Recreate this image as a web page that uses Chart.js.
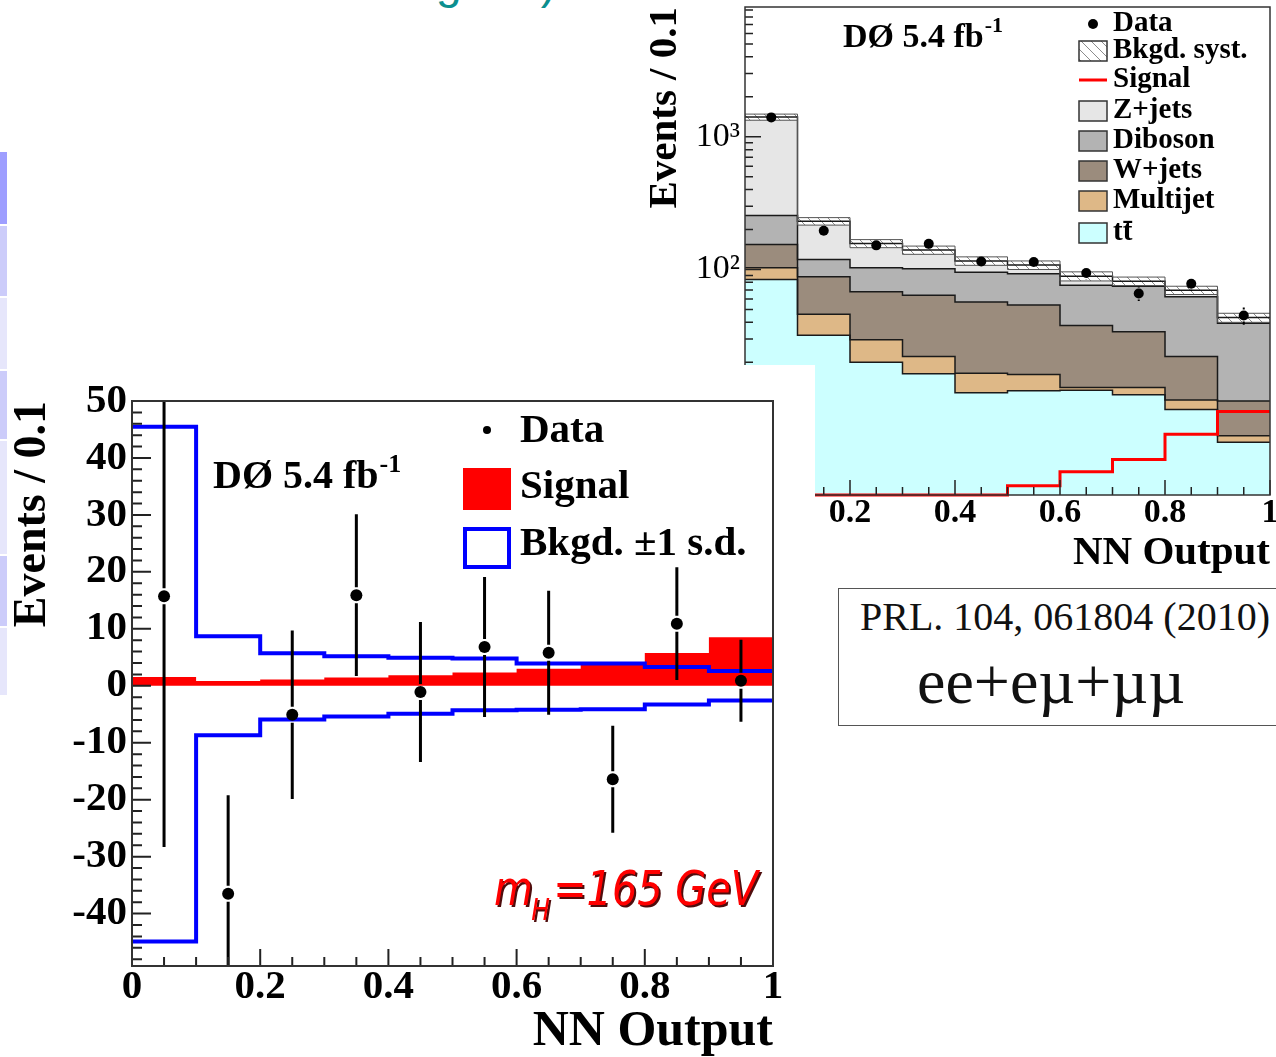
<!DOCTYPE html>
<html>
<head>
<meta charset="utf-8">
<title>NN output, ee+eµ+µµ</title>
<script src="https://cdn.jsdelivr.net/npm/chart.js@4.4.1/dist/chart.umd.min.js"></script>
<style>
  html, body { margin: 0; padding: 0; background: #fff; }
  body { position: relative; width: 1276px; height: 1057px; overflow: hidden; }
  .cell { position: absolute; left: 0; width: 7px; }
  #heading { position: absolute; right: 720px; top: -41px; font: 46px/46px 'Liberation Sans', Arial, sans-serif;
             color: #0b8f8f; white-space: nowrap; }
  #topPanel { position: absolute; left: 640px; top: 0; z-index: 1; }
  #subPanel { position: absolute; left: 8px; top: 365px; z-index: 2; background: #fff; }
  #refBox { position: absolute; left: 838px; top: 588px; width: 470px; height: 136px; border: 1.5px solid #555;
            background: #fff; z-index: 3; }
  .refText { position: absolute; white-space: nowrap; font-family: 'Liberation Serif', 'DejaVu Serif', serif;
             color: #111; z-index: 4; }
</style>
</head>
<body>
<!-- slide table edge -->
<div class="cell" style="top:152px;height:72px;background:#9e9eff"></div>
<div class="cell" style="top:226px;height:70px;background:#ccccfa"></div>
<div class="cell" style="top:298px;height:71px;background:#e6e6fb"></div>
<div class="cell" style="top:371px;height:68px;background:#ccccfa"></div>
<div class="cell" style="top:441px;height:113px;background:#e6e6fb"></div>
<div class="cell" style="top:556px;height:70px;background:#ccccfa"></div>
<div class="cell" style="top:628px;height:67px;background:#e6e6fb"></div>

<div id="heading">Subtracting NN)</div>

<div id="topPanel"><canvas id="stackCanvas" width="636" height="590"></canvas></div>
<div id="subPanel"><canvas id="subCanvas" width="807" height="692"></canvas></div>

<div id="refBox"></div>
<div class="refText" style="left:860px;top:597px;font-size:40px;line-height:40px;">PRL. 104, 061804 (2010)</div>
<div class="refText" style="left:1051px;top:650px;font-size:64px;line-height:64px;transform:translateX(-50%);">ee+eµ+µµ</div>

<script>
// ---------- binning: NN output, bins of 0.1 ----------
const binEdges   = [0, 0.1, 0.2, 0.3, 0.4, 0.5, 0.6, 0.7, 0.8, 0.9, 1.0];
const binCenters = [0.05, 0.15, 0.25, 0.35, 0.45, 0.55, 0.65, 0.75, 0.85, 0.95];

// ---------- Events / 0.1 : background components (stacked, log panel) ----------
const ttbar    = [84, 32, 20, 16.4, 11.8, 12.2, 12.3, 11.4, 8.8, 5.0];
const multijet = [19, 14, 9.5, 5.7, 4.7, 4.0, 0.6, 1.5, 1.6, 0.6];
const wjets    = [51, 42, 38.5, 42, 40.3, 37.8, 25, 21.1, 11.7, 4.6];
const diboson  = [101, 31, 35, 37, 38.6, 39, 38.1, 40.8, 40.3, 29.1];
const zjets    = [1152, 112, 54, 39, 20.6, 15, 13, 6.9, 7.4, 4.1];
const bkgdSyst = [75, 15, 11, 10, 8.5, 8, 7, 6, 5, 3.4];

const dataEvents  = [1400, 196, 152, 156, 115, 114, 94, 66, 78, 45];
const dataStatErr = [37, 14, 12.3, 12.5, 10.7, 10.7, 9.7, 8.1, 8.8, 6.7];
const signal      = [1.55, 0.85, 1.1, 1.45, 1.85, 2.35, 3.0, 3.7, 5.75, 8.5];

// ---------- background-subtracted panel ----------
const dataMinusBkgd    = [15.7, -36.5, -5.1, 15.9, -1.1, 6.8, 5.8, -16.4, 10.9, 0.9];
const dataMinusBkgdErr = [44, 17.3, 14.8, 14.2, 12.3, 12.3, 10.9, 9.4, 9.9, 7.2];
const bkgdUp   = [45.5, 8.7, 5.7, 5.2, 4.9, 4.8, 3.9, 3.9, 3.3, 2.6];
const bkgdDown = [-44.9, -8.7, -5.9, -5.4, -4.9, -4.3, -4.2, -4.1, -3.3, -2.6];

// ---------- axis labels ----------
const xTickValues   = [0, 0.2, 0.4, 0.6, 0.8, 1];
const xTickLabels   = ['0', '0.2', '0.4', '0.6', '0.8', '1'];
const logTickValues = [10, 100, 1000];
const logTickLabels = ['10¹', '10²', '10³'];
const subTickValues = [-40, -30, -20, -10, 0, 10, 20, 30, 40, 50];
const subTickLabels = ['-40', '-30', '-20', '-10', '0', '10', '20', '30', '40', '50'];

const logMin = 2, logMax = 9500;
const subMin = -49.2, subMax = 50;

const SERIF = "'Liberation Serif', 'Times New Roman', Times, serif";

// ---------- helpers ----------
const cumulative = (...layers) => layers[0].map((_, i) => layers.reduce((s, l) => s + l[i], 0));
// histogram contour: one point per bin edge, the last bin repeated at the upper edge
const steps = vals => binEdges.map((x, i) => ({ x, y: vals[Math.min(i, vals.length - 1)] }));
const points = vals => binCenters.map((x, i) => ({ x, y: vals[i] }));

function nnTicks(longLen, shortLen) {
  const t = [];
  for (let k = 0; k <= 20; k++) t.push({ v: k * 0.05, len: k % 4 === 0 ? longLen : shortLen });
  return t;
}

function errorBars(cfg) {
  return {
    id: 'errorBars',
    beforeDatasetDraw(chart, args) {
      if (args.index !== 0) return;
      const { ctx, chartArea: a, scales: { x, y } } = chart;
      ctx.save();
      ctx.beginPath();
      ctx.rect(a.left, a.top, a.right - a.left, a.bottom - a.top);
      ctx.clip();
      ctx.strokeStyle = '#000';
      ctx.lineWidth = cfg.width;
      ctx.beginPath();
      binCenters.forEach((c, i) => {
        const px = x.getPixelForValue(c);
        const py = y.getPixelForValue(cfg.values[i]);
        const hi = y.getPixelForValue(cfg.values[i] + cfg.errors[i]);
        const lo = y.getPixelForValue(cfg.values[i] - cfg.errors[i]);
        if (py - hi > cfg.gap) { ctx.moveTo(px, py - cfg.gap); ctx.lineTo(px, hi); }
        if (lo - py > cfg.gap) { ctx.moveTo(px, py + cfg.gap); ctx.lineTo(px, lo); }
      });
      ctx.stroke();
      ctx.restore();
    }
  };
}

function axisFrame(cfg) {
  return {
    id: 'axisFrame',
    afterDatasetsDraw(chart) {
      const { ctx, chartArea: a, scales: { x, y } } = chart;
      ctx.save();
      ctx.strokeStyle = '#222';
      ctx.lineWidth = cfg.tickWidth;
      ctx.beginPath();
      cfg.xTicks.forEach(t => {
        const px = x.getPixelForValue(t.v);
        ctx.moveTo(px, a.bottom); ctx.lineTo(px, a.bottom - t.len);
      });
      cfg.yTicks.forEach(t => {
        const py = y.getPixelForValue(t.v);
        ctx.moveTo(a.left, py); ctx.lineTo(a.left + t.len, py);
      });
      ctx.stroke();
      ctx.strokeStyle = '#333';
      ctx.lineWidth = cfg.frameWidth;
      ctx.strokeRect(a.left, a.top, a.right - a.left, a.bottom - a.top);
      ctx.restore();
    }
  };
}

const whiteBackground = {
  id: 'whiteBackground',
  beforeDraw(chart) {
    const { ctx, width, height } = chart;
    ctx.save(); ctx.fillStyle = '#fff'; ctx.fillRect(0, 0, width, height); ctx.restore();
  }
};

function labelWithSup(ctx, x, base, main, sup, size, supSize, rise) {
  ctx.font = `bold ${size}px ${SERIF}`;
  ctx.fillText(main, x, base);
  const w = ctx.measureText(main).width;
  ctx.font = `bold ${supSize}px ${SERIF}`;
  ctx.fillText(sup, x + w + 1, base - rise);
}

function build() {
  // ===================== stacked log panel =====================
  const stackCanvas = document.getElementById('stackCanvas');
  const sctx = stackCanvas.getContext('2d');

  const tile = document.createElement('canvas');
  tile.width = 10; tile.height = 10;
  const tg = tile.getContext('2d');
  tg.fillStyle = '#fff'; tg.fillRect(0, 0, 10, 10);
  tg.strokeStyle = '#8c8c8c'; tg.lineWidth = 1;
  tg.beginPath();
  tg.moveTo(0, 0); tg.lineTo(10, 10);
  tg.moveTo(-5, 5); tg.lineTo(5, 15);
  tg.moveTo(5, -5); tg.lineTo(15, 5);
  tg.stroke();
  const hatch = sctx.createPattern(tile, 'repeat');

  const stackMj = cumulative(ttbar, multijet);
  const stackWj = cumulative(ttbar, multijet, wjets);
  const stackDb = cumulative(ttbar, multijet, wjets, diboson);
  const total   = cumulative(ttbar, multijet, wjets, diboson, zjets);

  const layer = (label, vals, color, fill) => ({
    label, data: steps(vals), stepped: true, borderColor: '#1a1a1a', borderWidth: 1.5,
    backgroundColor: color, fill, pointRadius: 0
  });

  const logTicks = [];
  for (let d = 1; d <= 1000; d *= 10) {
    for (let m = 1; m <= 9; m++) {
      const v = m * d;
      if (v >= logMin && v <= logMax) logTicks.push({ v, len: m === 1 ? 16 : 8 });
    }
  }

  new Chart(stackCanvas, {
    type: 'line',
    data: {
      datasets: [
        { label: 'Data', data: points(dataEvents), showLine: false, pointRadius: 5,
          pointBackgroundColor: '#000', pointBorderWidth: 0 },
        { label: 'Signal', data: steps(signal.map(v => Math.max(v, logMin))), stepped: true,
          borderColor: '#ff0000', borderWidth: 3, pointRadius: 0, fill: false, clip: 4 },
        { label: 'Bkgd. syst. up', data: steps(total.map((v, i) => v + bkgdSyst[i])), stepped: true,
          borderColor: '#555', borderWidth: 1, backgroundColor: hatch, fill: 3, pointRadius: 0 },
        { label: 'Bkgd. syst. down', data: steps(total.map((v, i) => v - bkgdSyst[i])), stepped: true,
          borderColor: '#555', borderWidth: 1, fill: false, pointRadius: 0 },
        layer('Z+jets', total, '#e6e6e6', 5),
        layer('Diboson', stackDb, '#b3b3b3', 6),
        layer('W+jets', stackWj, '#9b8c7d', 7),
        layer('Multijet', stackMj, '#deb887', 8),
        layer('tt̄', ttbar, '#ccffff', 'start')
      ]
    },
    options: {
      responsive: false, animation: false, events: [],
      layout: { padding: { left: 0, top: 7, right: 6, bottom: 0 } },
      plugins: { legend: { display: false }, tooltip: { enabled: false },
                 filler: { drawTime: 'beforeDatasetsDraw' } },
      scales: {
        x: {
          type: 'linear', min: 0, max: 1,
          grid: { display: false, drawTicks: false }, border: { display: false },
          afterBuildTicks: s => { s.ticks = xTickValues.map(v => ({ value: v })); },
          afterFit: s => { s.height = 95; s.paddingLeft = 0; s.paddingRight = 0; },
          ticks: { callback: (v, i) => xTickLabels[i], color: '#000', padding: 1, autoSkip: false, maxRotation: 0,
                   font: { family: SERIF, weight: 'bold', size: 34, lineHeight: 1 } },
          title: { display: true, text: 'NN Output', align: 'end', color: '#000',
                   font: { family: SERIF, weight: 'bold', size: 41, lineHeight: 1 }, padding: { top: 0, bottom: 16 } }
        },
        y: {
          type: 'logarithmic', min: logMin, max: logMax,
          grid: { display: false, drawTicks: false }, border: { display: false },
          afterBuildTicks: s => { s.ticks = logTickValues.map(v => ({ value: v })); },
          afterFit: s => { s.width = 105; s.paddingTop = 0; s.paddingBottom = 0; },
          ticks: { callback: (v, i) => logTickLabels[i], color: '#000', padding: 5, autoSkip: false,
                   font: { family: SERIF, size: 34, lineHeight: 1 } },
          title: { display: true, text: 'Events / 0.1', align: 'end', color: '#000',
                   font: { family: SERIF, weight: 'bold', size: 41, lineHeight: 1 }, padding: { top: 5, bottom: 0 } }
        }
      }
    },
    plugins: [
      whiteBackground,
      errorBars({ values: dataEvents, errors: dataStatErr, gap: 6, width: 2 }),
      axisFrame({ xTicks: nnTicks(15, 8), yTicks: logTicks, tickWidth: 1.5, frameWidth: 1.5 }),
      {
        id: 'stackLegend',
        afterDraw(chart) {
          const ctx = chart.ctx;
          ctx.save();
          ctx.fillStyle = '#000';
          ctx.textAlign = 'left';
          ctx.textBaseline = 'alphabetic';
          labelWithSup(ctx, 203, 47, 'DØ 5.4 fb', '-1', 34, 22, 15);

          const sx = 439, sw = 28, tx = 473;
          const rows = [
            { text: 'Data', y: 24, kind: 'dot' },
            { text: 'Bkgd. syst.', y: 51, kind: 'hatch' },
            { text: 'Signal', y: 80, kind: 'line' },
            { text: 'Z+jets', y: 111, kind: 'box', color: '#e6e6e6' },
            { text: 'Diboson', y: 141, kind: 'box', color: '#b3b3b3' },
            { text: 'W+jets', y: 171, kind: 'box', color: '#9b8c7d' },
            { text: 'Multijet', y: 201, kind: 'box', color: '#deb887' },
            { text: 'tt\u0304', y: 233, kind: 'box', color: '#ccffff' }
          ];
          rows.forEach(r => {
            if (r.kind === 'dot') {
              ctx.fillStyle = '#000';
              ctx.beginPath(); ctx.arc(sx + sw / 2, r.y, 5, 0, Math.PI * 2); ctx.fill();
            } else if (r.kind === 'line') {
              ctx.strokeStyle = '#ff0000'; ctx.lineWidth = 3;
              ctx.beginPath(); ctx.moveTo(sx, r.y); ctx.lineTo(sx + sw, r.y); ctx.stroke();
            } else {
              ctx.fillStyle = r.kind === 'hatch' ? hatch : r.color;
              ctx.fillRect(sx, r.y - 10, sw, 20);
              ctx.strokeStyle = '#333'; ctx.lineWidth = 1.5;
              ctx.strokeRect(sx, r.y - 10, sw, 20);
            }
            ctx.fillStyle = '#000';
            ctx.font = `bold 29px ${SERIF}`;
            ctx.textBaseline = 'middle';
            ctx.fillText(r.text, tx, r.y);
          });
          ctx.restore();
        }
      }
    ]
  });

  // ===================== background-subtracted panel =====================
  const subTicks = [];
  for (let v = -48; v <= 50; v += 2) subTicks.push({ v, len: v % 10 === 0 ? 19 : 10 });

  new Chart(document.getElementById('subCanvas'), {
    type: 'line',
    data: {
      datasets: [
        { label: 'Data', data: points(dataMinusBkgd), showLine: false, pointRadius: 6,
          pointBackgroundColor: '#000', pointBorderWidth: 0 },
        { label: 'Bkgd. +1 s.d.', data: steps(bkgdUp), stepped: true, borderColor: '#0000ff', borderWidth: 4,
          pointRadius: 0, fill: false },
        { label: 'Bkgd. -1 s.d.', data: steps(bkgdDown), stepped: true, borderColor: '#0000ff', borderWidth: 4,
          pointRadius: 0, fill: false },
        { label: 'Signal', data: steps(signal), stepped: true, borderColor: 'rgba(0,0,0,0)', borderWidth: 0,
          backgroundColor: '#ff0000', fill: { value: 0 }, pointRadius: 0 }
      ]
    },
    options: {
      responsive: false, animation: false, events: [],
      layout: { padding: { left: 0, top: 36, right: 42, bottom: 0 } },
      plugins: { legend: { display: false }, tooltip: { enabled: false } },
      scales: {
        x: {
          type: 'linear', min: 0, max: 1,
          grid: { display: false, drawTicks: false }, border: { display: false },
          afterBuildTicks: s => { s.ticks = xTickValues.map(v => ({ value: v })); },
          afterFit: s => { s.height = 91; s.paddingLeft = 0; s.paddingRight = 0; },
          ticks: { callback: (v, i) => xTickLabels[i], color: '#000', padding: 1, autoSkip: false, maxRotation: 0,
                   font: { family: SERIF, weight: 'bold', size: 41, lineHeight: 1 } },
          title: { display: true, text: 'NN Output', align: 'end', color: '#000',
                   font: { family: SERIF, weight: 'bold', size: 50, lineHeight: 1 }, padding: { top: 0, bottom: 0 } }
        },
        y: {
          type: 'linear', min: subMin, max: subMax,
          grid: { display: false, drawTicks: false }, border: { display: false },
          afterBuildTicks: s => { s.ticks = subTickValues.map(v => ({ value: v })); },
          afterFit: s => { s.width = 124; s.paddingTop = 0; s.paddingBottom = 0; },
          ticks: { callback: (v, i) => subTickLabels[i], color: '#000', padding: 5, autoSkip: false,
                   font: { family: SERIF, weight: 'bold', size: 41, lineHeight: 1 } },
          title: { display: true, text: 'Events / 0.1', align: 'end', color: '#000',
                   font: { family: SERIF, weight: 'bold', size: 46, lineHeight: 1 }, padding: { top: 2, bottom: 0 } }
        }
      }
    },
    plugins: [
      whiteBackground,
      errorBars({ values: dataMinusBkgd, errors: dataMinusBkgdErr, gap: 8, width: 3 }),
      axisFrame({ xTicks: nnTicks(17, 9), yTicks: subTicks, tickWidth: 2, frameWidth: 2 }),
      {
        id: 'subLegend',
        afterDraw(chart) {
          const ctx = chart.ctx;
          ctx.save();
          ctx.fillStyle = '#000';
          ctx.textAlign = 'left';
          ctx.textBaseline = 'alphabetic';
          labelWithSup(ctx, 205, 123, 'DØ 5.4 fb', '-1', 40, 26, 16);

          // Data
          ctx.beginPath(); ctx.arc(479, 65, 4, 0, Math.PI * 2); ctx.fill();
          // Signal
          ctx.fillStyle = '#ff0000';
          ctx.fillRect(455, 103, 48, 42);
          // Bkgd. ±1 s.d.
          ctx.strokeStyle = '#0000ff'; ctx.lineWidth = 4;
          ctx.strokeRect(457, 164, 44, 38);

          ctx.fillStyle = '#000';
          ctx.font = `bold 41px ${SERIF}`;
          ctx.textBaseline = 'middle';
          ctx.fillText('Data', 512, 66);
          ctx.fillText('Signal', 512, 122);
          ctx.fillText('Bkgd. ±1 s.d.', 512, 179);

          // Higgs mass tag
          ctx.textBaseline = 'alphabetic';
          ctx.fillStyle = '#ff0000';
          ctx.shadowColor = 'rgba(70,0,0,0.95)';
          ctx.shadowOffsetX = 2; ctx.shadowOffsetY = 2; ctx.shadowBlur = 0;
          ctx.translate(486, 540);
          ctx.scale(0.83, 1);
          ctx.font = "oblique 48px 'DejaVu Sans'";
          ctx.fillText('m', 0, 0);
          let w = ctx.measureText('m').width;
          ctx.font = "oblique 30px 'DejaVu Sans'";
          ctx.fillText('H', w - 2, 15);
          w += ctx.measureText('H').width;
          ctx.font = "oblique 48px 'DejaVu Sans'";
          ctx.fillText('=165 GeV', w + 2, 0);
          ctx.restore();
        }
      }
    ]
  });
}

Promise.all([
  document.fonts.load(`bold 30px 'Liberation Serif'`),
  document.fonts.load(`30px 'Liberation Serif'`),
  document.fonts.load(`oblique 30px 'DejaVu Sans'`)
]).catch(() => {}).then(build);
</script>
</body>
</html>
